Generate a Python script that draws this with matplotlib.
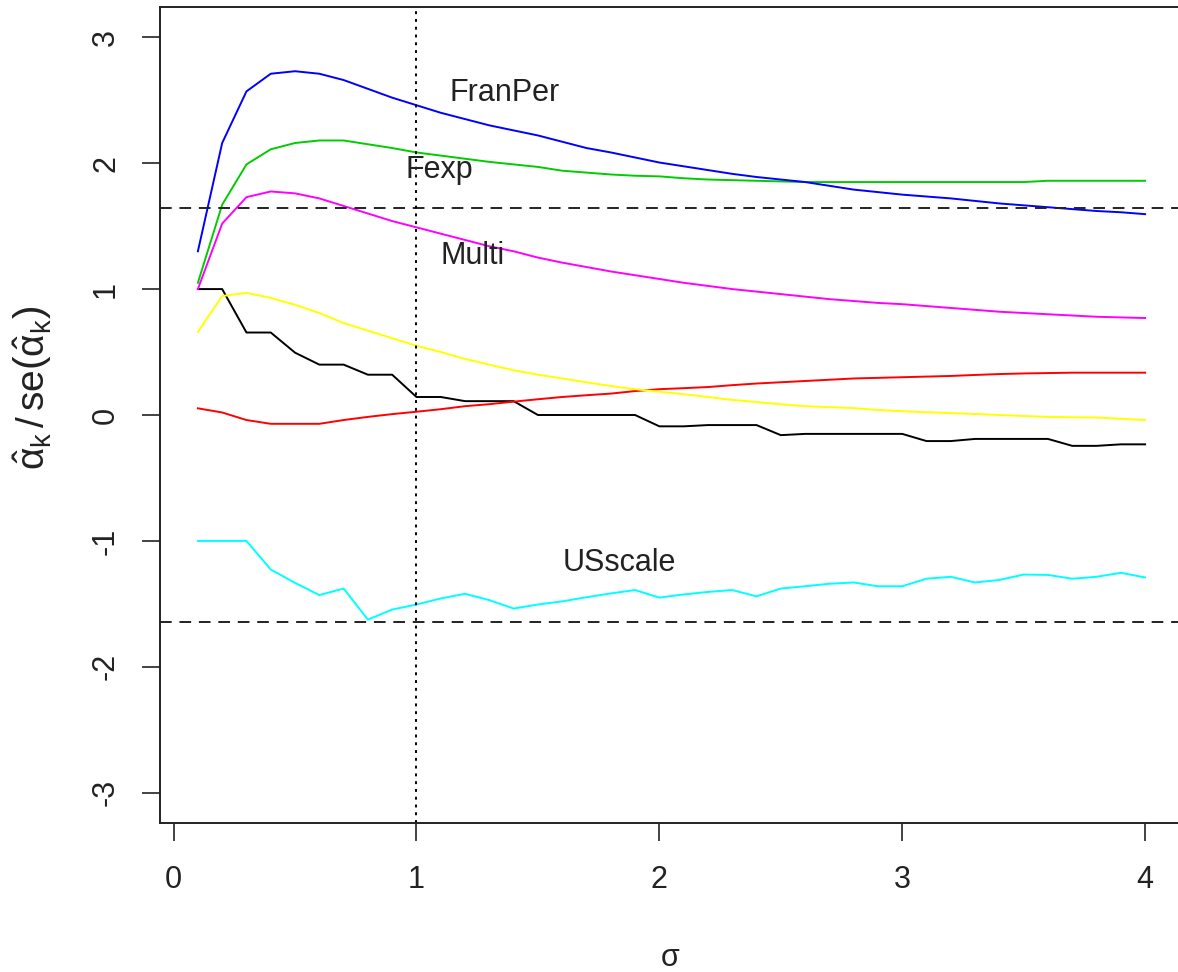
import numpy as np
import matplotlib.pyplot as plt

plt.rcParams['font.family'] = ['Liberation Sans', 'DejaVu Sans']
plt.rcParams['axes.unicode_minus'] = False
plt.rcParams['mathtext.fontset'] = 'custom'
plt.rcParams['mathtext.rm'] = 'Liberation Sans'
plt.rcParams['mathtext.it'] = 'Liberation Sans'

# sigma grid 0.1 .. 4.0
sigma = np.round(np.arange(1, 41) * 0.1, 1)

franper = [1.30, 2.16, 2.57, 2.71, 2.73, 2.71, 2.66, 2.59, 2.52, 2.46,
           2.40, 2.35, 2.30, 2.26, 2.22, 2.17, 2.12, 2.085, 2.045, 2.005,
           1.975, 1.945, 1.915, 1.89, 1.87, 1.85, 1.82, 1.79, 1.77, 1.75,
           1.735, 1.72, 1.70, 1.68, 1.665, 1.65, 1.635, 1.62, 1.61, 1.595]
fexp = [1.05, 1.67, 1.99, 2.11, 2.16, 2.18, 2.18, 2.15, 2.12, 2.085,
        2.06, 2.035, 2.01, 1.99, 1.97, 1.94, 1.925, 1.91, 1.90, 1.895,
        1.88, 1.87, 1.865, 1.86, 1.855, 1.85, 1.85, 1.85, 1.85, 1.85,
        1.85, 1.85, 1.85, 1.85, 1.85, 1.86, 1.86, 1.86, 1.86, 1.86]
multi = [1.00, 1.52, 1.73, 1.775, 1.76, 1.72, 1.66, 1.60, 1.54, 1.49,
         1.44, 1.39, 1.34, 1.30, 1.25, 1.21, 1.175, 1.14, 1.11, 1.08,
         1.05, 1.025, 1.00, 0.98, 0.96, 0.94, 0.92, 0.905, 0.89, 0.88,
         0.865, 0.85, 0.835, 0.82, 0.81, 0.80, 0.79, 0.78, 0.775, 0.77]
yel = [0.66, 0.945, 0.97, 0.93, 0.875, 0.81, 0.73, 0.67, 0.61, 0.55,
       0.50, 0.445, 0.40, 0.355, 0.32, 0.29, 0.26, 0.23, 0.205, 0.185,
       0.165, 0.143, 0.12, 0.103, 0.085, 0.07, 0.062, 0.055, 0.04, 0.03,
       0.022, 0.015, 0.008, 0.0, -0.008, -0.015, -0.018, -0.02, -0.03, -0.04]
red = [0.053, 0.02, -0.04, -0.07, -0.07, -0.07, -0.04, -0.015, 0.007, 0.026,
       0.046, 0.07, 0.086, 0.106, 0.125, 0.143, 0.157, 0.17, 0.19, 0.205,
       0.213, 0.222, 0.237, 0.25, 0.26, 0.27, 0.28, 0.29, 0.295, 0.30,
       0.305, 0.31, 0.318, 0.325, 0.33, 0.333, 0.336, 0.336, 0.336, 0.336]
blk = [1.0, 1.0, 0.655, 0.655, 0.495, 0.40, 0.40, 0.32, 0.32, 0.143,
       0.143, 0.11, 0.11, 0.11, 0.0, 0.0, 0.0, 0.0, 0.0, -0.09,
       -0.09, -0.08, -0.08, -0.08, -0.16, -0.15, -0.15, -0.15, -0.15, -0.15,
       -0.207, -0.207, -0.19, -0.19, -0.19, -0.19, -0.245, -0.245, -0.233, -0.233]
usscale = [-1.0, -1.0, -1.0, -1.227, -1.333, -1.43, -1.378, -1.625, -1.545, -1.505,
           -1.457, -1.42, -1.47, -1.537, -1.505, -1.48, -1.447, -1.417, -1.39, -1.45,
           -1.425, -1.405, -1.39, -1.44, -1.378, -1.36, -1.34, -1.33, -1.36, -1.36,
           -1.30, -1.285, -1.33, -1.31, -1.267, -1.27, -1.30, -1.285, -1.253, -1.29]

crit = 1.645

fig = plt.figure(figsize=(11.78, 9.72), dpi=100)
W, H = 1178, 972
ax = fig.add_axes([160/W, 1 - 823/H, (1183 - 160)/W, (823 - 7)/H])

lw = 1.4
ax.plot(sigma, blk, color='black', lw=lw)
ax.plot(sigma, red, color='#FF0000', lw=lw)
ax.plot(sigma, fexp, color='#00CD00', lw=lw)
ax.plot(sigma, franper, color='#0000FF', lw=lw)
ax.plot(sigma, usscale, color='#00FFFF', lw=lw)
ax.plot(sigma, multi, color='#FF00FF', lw=lw)
ax.plot(sigma, yel, color='#FFFF00', lw=lw)

ax.axhline(crit, color='#222222', ls=(0, (6, 4)), lw=1.4)
ax.axhline(-crit, color='#222222', ls=(0, (6, 4)), lw=1.4)
ax.axvline(1, color='black', ls=(0, (1.5, 2.5)), lw=1.4)

fs = 22
tc = '#222222'
ax.text(1.364, 2.496, 'FranPer', fontsize=fs, ha='center', va='baseline', color=tc)
ax.text(1.096, 1.884, 'Fexp', fontsize=fs, ha='center', va='baseline', color=tc)
ax.text(1.23, 1.20, 'Multi', fontsize=fs, ha='center', va='baseline', color=tc)
ax.text(1.837, -1.24, 'USscale', fontsize=fs, ha='center', va='baseline', color=tc)

ax.set_xlim(-0.056, 4.156)
ax.set_ylim(-3.24, 3.24)
ax.set_xticks([0, 1, 2, 3, 4])
ax.set_yticks([-3, -2, -1, 0, 1, 2, 3])
ax.tick_params(axis='both', direction='out', length=13, width=1.2, labelsize=22, colors=tc)
ax.tick_params(axis='x', pad=17)
ax.tick_params(axis='y', pad=15)
for lab in ax.get_yticklabels():
    lab.set_rotation(90)
    lab.set_va('center')
for s in ax.spines.values():
    s.set_linewidth(1.4)
    s.set_color(tc)

fig.text(670/W, 1 - 958/H, 'σ', fontsize=22, ha='center', va='center', color=tc)
fig.text(32/W, 1 - 388/H, r'$\hat{\alpha}_k\,/\,\mathrm{se}\left(\hat{\alpha}_k\right)$', fontsize=28,
         ha='center', va='center', rotation=90, color=tc)

fig.savefig('out.png', dpi=100)
